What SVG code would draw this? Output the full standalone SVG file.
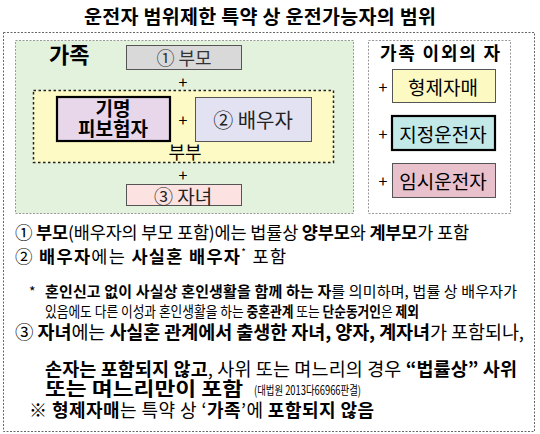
<svg xmlns="http://www.w3.org/2000/svg" width="540" height="434" viewBox="0 0 540 434">
<style>
text{font-family:"Noto Sans CJK KR","Noto Sans",sans-serif;fill:#000}
.b{font-weight:bold}
.c{text-anchor:middle;dominant-baseline:central}
.box{stroke:#555;stroke-width:1}
.thick{stroke:#000;stroke-width:2.2}
.plus{font-size:16px}
</style>
<rect width="540" height="434" fill="#fff"/>
<text class="b c" x="260" y="15" font-size="19.5" textLength="352" lengthAdjust="spacing">운전자 범위제한 특약 상 운전가능자의 범위</text>
<rect x="3.5" y="32.5" width="531" height="399" fill="none" stroke="#666" stroke-dasharray="2 1.5"/>
<g id="family">
<rect x="15.5" y="40.5" width="338" height="173" fill="#e3f2dd" stroke="#999" stroke-dasharray="2 1.5"/>
<text class="b" x="49" y="63" font-size="22">가족</text>
</g>
<g id="spouse-group">
<rect x="33.5" y="90.5" width="300" height="72" fill="#fdfac5" stroke="#222" stroke-width="1.5" stroke-dasharray="2.5 2.5"/>
<text class="c" x="185" y="151" font-size="18">부부</text>
</g>
<g id="parents">
<rect class="box" x="126.5" y="45.5" width="115" height="24" fill="#d9d9d9"/>
<text class="c" x="184" y="57" font-size="18" style="fill:#333">① 부모</text>
</g>
<g id="insured">
<rect class="thick" x="57" y="97" width="113" height="44" fill="#e8d6ea"/>
<text class="b c" x="113" y="107" font-size="19">기명</text>
<text class="b c" x="113" y="127" font-size="19">피보험자</text>
</g>
<g id="spouse">
<rect class="box" x="195.5" y="97.5" width="116" height="44" fill="#e2e2f2"/>
<text class="c" x="253" y="119" font-size="20" style="fill:#222">② 배우자</text>
</g>
<g id="children">
<rect class="box" x="126.5" y="184.5" width="115" height="21" fill="#fde2e2"/>
<text class="c" x="183" y="195" font-size="19" style="fill:#222">③ 자녀</text>
</g>
<g id="plus-family">
<text class="c plus" x="183" y="81">+</text>
<text class="c plus" x="183" y="119">+</text>
<text class="c plus" x="183" y="174">+</text>
</g>
<g id="others">
<rect x="368.5" y="40.5" width="142" height="173" fill="#fff" stroke="#999" stroke-dasharray="2 1.5"/>
<text class="b c" x="440" y="52" font-size="18" textLength="120" lengthAdjust="spacing">가족 이외의 자</text>
</g>
<g id="siblings">
<rect class="box" x="392.5" y="69.5" width="103" height="33" fill="#fdf9c2"/>
<text class="c" x="443" y="86" font-size="19">형제자매</text>
</g>
<g id="designated">
<rect class="thick" x="392" y="116" width="103" height="34" fill="#c2e8e8"/>
<text class="c" x="443" y="133" font-size="19">지정운전자</text>
</g>
<g id="temporary">
<rect class="box" x="392.5" y="163.5" width="103" height="34" fill="#e9c1cd"/>
<text class="c" x="443" y="180" font-size="19">임시운전자</text>
</g>
<g id="plus-others">
<text class="c plus" x="383" y="86">+</text>
<text class="c plus" x="383" y="133">+</text>
<text class="c plus" x="383" y="180">+</text>
</g>
<g id="notes">
<text x="15" y="239" font-size="17.5" textLength="454" lengthAdjust="spacing">① <tspan class="b">부모</tspan>(배우자의 부모 포함)에는 법률상 <tspan class="b">양부모</tspan>와 <tspan class="b">계부모</tspan>가 포함</text>
<text x="15" y="263" font-size="17.5" textLength="271" lengthAdjust="spacing">② <tspan class="b">배우자</tspan>에는 <tspan class="b">사실혼 배우자</tspan><tspan font-size="10" dy="-7">*</tspan><tspan dy="7"> 포함</tspan></text>
<text x="29" y="297" font-size="14">*</text>
<text x="45" y="297" font-size="15" textLength="472" lengthAdjust="spacing"><tspan class="b">혼인신고 없이 사실상 혼인생활을 함께 하는 자</tspan>를 의미하며, 법률 상 배우자가</text>
<text x="45" y="317" font-size="15" textLength="374" lengthAdjust="spacingAndGlyphs">있음에도 다른 이성과 혼인생활을 하는 <tspan class="b">중혼관계</tspan> 또는 <tspan class="b">단순동거인</tspan>은 <tspan class="b">제외</tspan></text>
<text x="15" y="339" font-size="18.5" textLength="509" lengthAdjust="spacing">③ <tspan class="b">자녀</tspan>에는 <tspan class="b">사실혼 관계에서 출생한 자녀, 양자, 계자녀</tspan>가 포함되나,</text>
<text x="45" y="376" font-size="18.5" textLength="472" lengthAdjust="spacing"><tspan class="b">손자는 포함되지 않고</tspan>, 사위 또는 며느리의 경우 <tspan class="b">“법률상” 사위</tspan></text>
<text class="b" x="45" y="396" font-size="19" textLength="198" lengthAdjust="spacingAndGlyphs">또는 며느리만이 포함</text>
<text x="254" y="395" font-size="12.5" textLength="107" lengthAdjust="spacingAndGlyphs">(대법원 2013다66966판결)</text>
<text x="29" y="417" font-size="18" textLength="345" lengthAdjust="spacing">※ <tspan class="b">형제자매</tspan>는 특약 상 ‘<tspan class="b">가족</tspan>’에 <tspan class="b">포함되지 않음</tspan></text>
</g>
</svg>
